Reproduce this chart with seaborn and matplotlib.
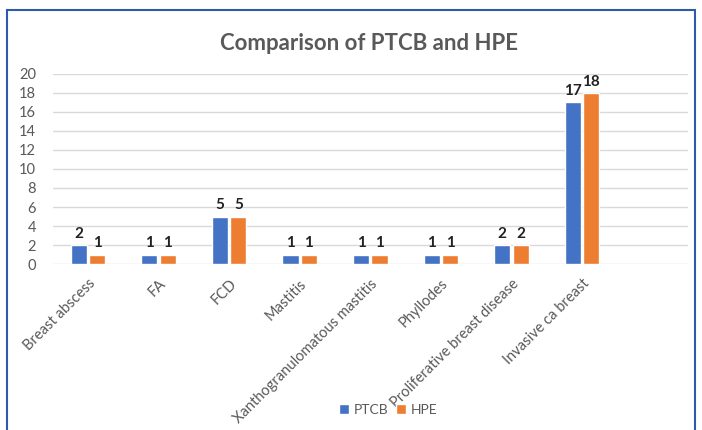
import matplotlib
matplotlib.use("Agg")
import matplotlib.pyplot as plt
import seaborn as sns
import pandas as pd
from matplotlib.patches import Rectangle

categories = ["Breast abscess", "FA", "FCD", "Mastitis", "Xanthogranulomatous mastitis",
              "Phyllodes", "Proliferative breast disease", "Invasive ca breast"]
ptcb = [2, 1, 5, 1, 1, 1, 2, 17]
hpe = [1, 1, 5, 1, 1, 1, 2, 18]
series = ["PTCB", "HPE"]
colors = ["#4472C4", "#ED7D31"]

df = pd.DataFrame({
    "cat": categories * 2,
    "val": ptcb + hpe,
    "series": [series[0]] * len(categories) + [series[1]] * len(categories),
})

sns.set_theme(style="white")
plt.rcParams["font.family"] = ["Lato", "DejaVu Sans"]

fig = plt.figure(figsize=(7.02, 4.30), dpi=100)
ax = fig.add_axes([0.075, 0.386, 0.905, 0.442])

sns.barplot(data=df, x="cat", y="val", hue="series", palette=colors,
            width=0.52, gap=0.12, ax=ax, legend=True, saturation=1)

ax.set_xlim(-0.5, 8.5)
ax.set_ylim(0, 20)
ax.set_yticks(range(0, 21, 2))
ax.yaxis.grid(True, color="#D9D9D9", linewidth=1)
ax.set_axisbelow(True)
for s in ax.spines.values():
    s.set_visible(False)
ax.set_xlabel("")
ax.set_ylabel("")
ax.tick_params(axis="y", colors="#595959", labelsize=10.5, length=0, pad=12)
ax.tick_params(axis="x", colors="#595959", labelsize=10.5, length=0, pad=9)
ax.set_xticks(range(len(categories)))
ax.set_xticklabels(categories, rotation=45, ha="right", rotation_mode="anchor")

for cont in ax.containers:
    ax.bar_label(cont, padding=3, fontsize=11, fontweight="bold", color="#222222")

handles, labels = ax.get_legend_handles_labels()
ax.get_legend().remove()
fig.legend(handles, labels, loc="center", bbox_to_anchor=(0.553, 0.047), ncol=2,
           frameon=False, fontsize=10, handlelength=0.7, handleheight=0.7,
           handletextpad=0.3, columnspacing=0.6, labelcolor="#595959")

fig.text(0.525, 0.9, "Comparison of PTCB and HPE", ha="center", va="center",
         fontsize=16, fontweight="bold", color="#595959")

fig.patches.append(Rectangle((7 / 702, -0.05), 688 / 702, 1 - 10 / 430 + 0.05,
                             transform=fig.transFigure, fill=False,
                             edgecolor="#2E5AAC", linewidth=1.5))

fig.savefig("out.png", dpi=100)
